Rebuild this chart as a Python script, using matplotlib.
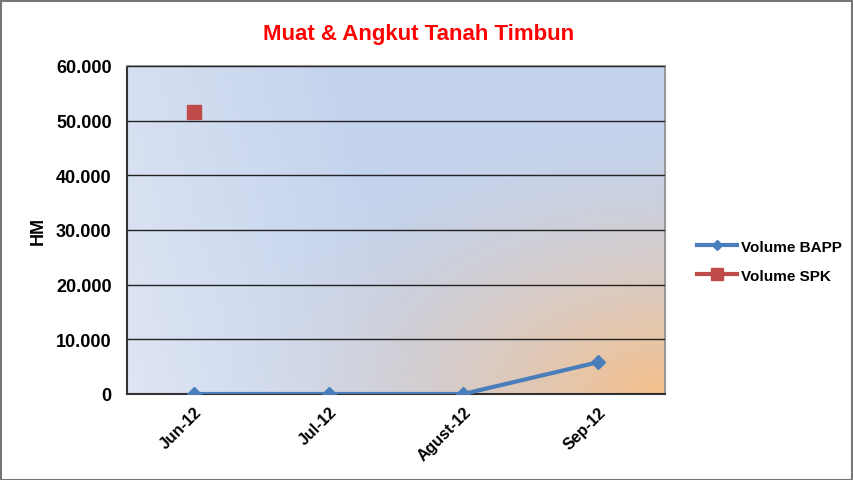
import numpy as np
import matplotlib
matplotlib.use("Agg")
from matplotlib import pyplot as plt
from matplotlib.ticker import FuncFormatter, MultipleLocator

plt.rcParams["font.family"] = ["Liberation Sans", "DejaVu Sans"]

months = ["Jun-12", "Jul-12", "Agust-12", "Sep-12"]
volume_bapp = [0, 0, 0, 5800]
volume_spk = [51500, np.nan, np.nan, np.nan]

fig = plt.figure(figsize=(8.54, 4.81), dpi=100)
ax = fig.add_axes([0.1487, 0.1788, 0.63, 0.682])

# gradient background (blue -> peach towards bottom right)
h, w = 200, 300
yy, xx = np.mgrid[0:1:h*1j, 0:1:w*1j]
d = np.sqrt((1 - xx) ** 2 + (1 - yy) ** 2)
t = np.clip(1 - d / 0.85, 0, 1) ** 1.6
blue = np.array([196, 211, 237]) / 255
light = np.array([222, 229, 243]) / 255
orange = np.array([246, 192, 138]) / 255
s = np.clip(1 - (xx * 1.8 + (1 - yy) * 0.3), 0, 1)[..., None]
base = blue * (1 - s) + light * s
img = base * (1 - t[..., None]) + orange * t[..., None]
ax.imshow(img, extent=[-0.5, 3.5, 0, 60000], aspect="auto", origin="upper", zorder=0)

x = np.arange(len(months))
ax.plot(x, volume_bapp, color="#4a7ebb", lw=3, marker="D", ms=7, label="Volume BAPP", zorder=3)
ax.plot(x, volume_spk, color="#be4b48", lw=3, marker="s", ms=10, label="Volume SPK", zorder=3)

ax.set_xlim(-0.5, 3.5)
ax.set_ylim(0, 60000)
ax.yaxis.set_major_locator(MultipleLocator(10000))
ax.yaxis.set_major_formatter(FuncFormatter(lambda v, p: f"{int(v):,}".replace(",", ".")))
ax.grid(axis="y", color="#222222", lw=1, zorder=1)
ax.set_axisbelow(False)
ax.set_xticks(x)
ax.set_xticklabels(months, rotation=45, ha="right", rotation_mode="anchor", fontweight="bold", fontsize=11.5)
for lab in ax.get_yticklabels():
    lab.set_fontweight("bold")
    lab.set_fontsize(13)
ax.tick_params(axis="y", length=0, pad=11)
ax.tick_params(axis="x", length=0, pad=7)
ax.set_ylabel("HM", fontweight="bold", fontsize=13, labelpad=7)
for side in ["left", "bottom"]:
    ax.spines[side].set_color("#333333")
    ax.spines[side].set_linewidth(1.5)
for side in ["top", "right"]:
    ax.spines[side].set_color("#999999")
    ax.spines[side].set_linewidth(1.5)

fig.text(0.49, 0.928, "Muat & Angkut Tanah Timbun", color="#ff0000", fontweight="bold",
         fontsize=16, ha="center", va="center")
fig.legend(loc="center left", bbox_to_anchor=(0.8, 0.455), frameon=False,
           prop={"weight": "bold", "size": 11}, handlelength=2.6, handletextpad=0.3,
           labelspacing=1.0, markerscale=0.8)

fig.patches.append(plt.Rectangle((0.001, 0.001), 0.997, 0.995, transform=fig.transFigure,
                                 fill=False, edgecolor="#777777", lw=1.5))
fig.savefig("out.png", dpi=100)
